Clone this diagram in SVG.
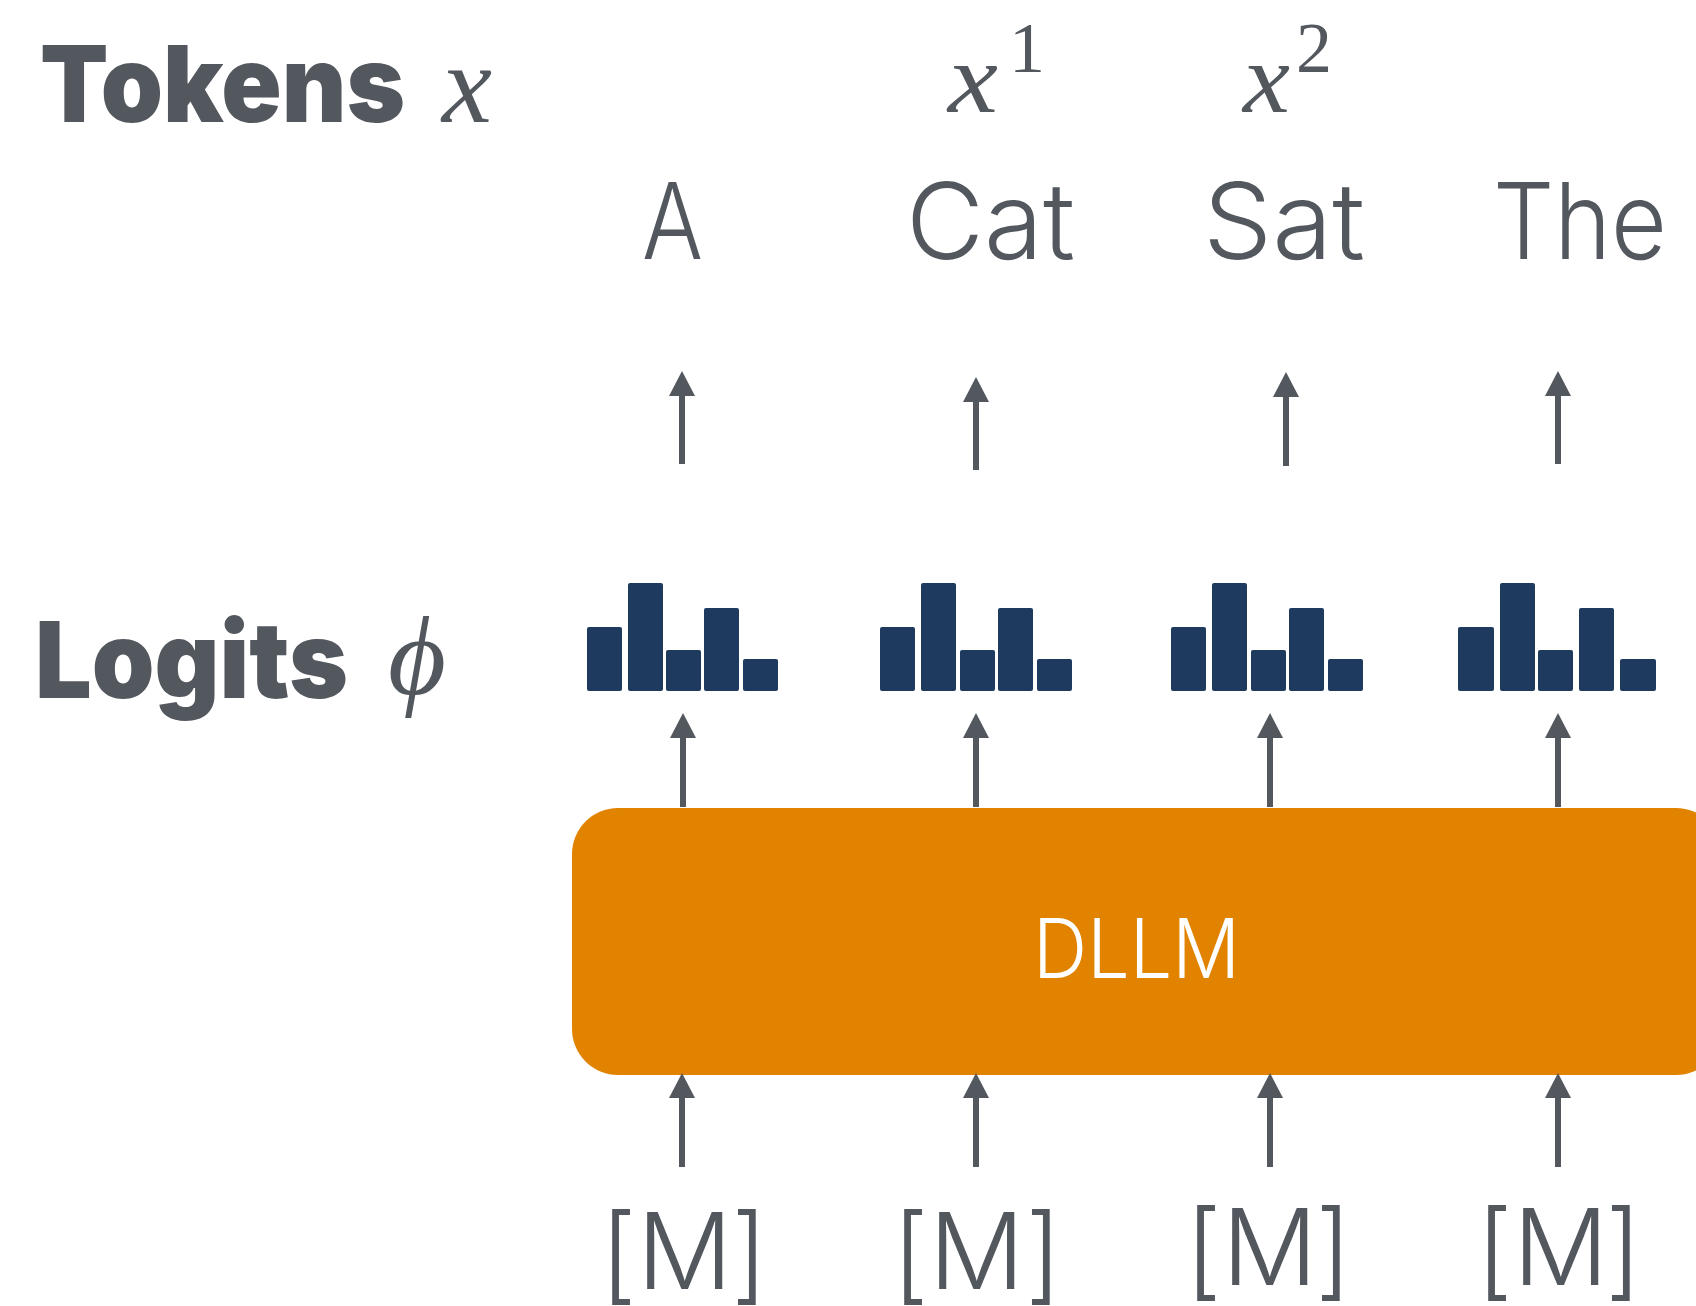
<svg xmlns="http://www.w3.org/2000/svg" width="1696" height="1306" viewBox="0 0 1696 1306">
  <style>
    .head { font-family: Inter, "Noto Sans", "Liberation Sans", sans-serif; font-weight: 900; font-size: 106px; fill: #53575e; }
    .math { font-family: "Liberation Serif", "DejaVu Serif", serif; font-style: italic; fill: #53575e; }
    .num { font-family: "Liberation Serif", "DejaVu Serif", serif; fill: #53575e; }
    .tok { font-family: Inter, "Noto Sans", "Liberation Sans", sans-serif; font-weight: 300; font-size: 106px; fill: #53575e; }
    .mask { font-family: Inter, "Noto Sans", "Liberation Sans", sans-serif; font-weight: 300; font-size: 106px; fill: #53575e; }
    .bar { fill: #1f3a5f; }
    .arrow { stroke: #53575e; stroke-width: 6; fill: none; }
    .box { fill: #e28300; }
    .boxlabel { font-family: Inter, "Noto Sans", "Liberation Sans", sans-serif; font-weight: 300; font-size: 82px; fill: #ffffff; }
  </style>
  <defs>
    <marker id="tip" viewBox="0 0 25 26" refX="0" refY="13" markerWidth="25" markerHeight="26" markerUnits="userSpaceOnUse" orient="auto">
      <path d="M0,0 L25,13 L0,26 Z" fill="#53575e"/>
    </marker>
  </defs>

  <rect width="1696" height="1306" fill="#ffffff"/>

  <!-- row headings -->
  <g id="heading-tokens">
    <text class="head" x="40" y="122" textLength="365" lengthAdjust="spacingAndGlyphs">Tokens</text>
    <text class="math" x="442" y="122" font-size="112" textLength="50" lengthAdjust="spacingAndGlyphs">x</text>
  </g>
  <g id="heading-logits">
    <text class="head" x="35" y="698" textLength="313" lengthAdjust="spacingAndGlyphs">Logits</text>
    <text class="math" x="388" y="694" font-size="112" textLength="58" lengthAdjust="spacingAndGlyphs">ϕ</text>
  </g>

  <!-- step labels -->
  <g id="label-x1">
    <text class="math" x="948" y="112" font-size="100" textLength="50" lengthAdjust="spacingAndGlyphs">x</text>
    <text class="num" x="1009" y="72" font-size="72">1</text>
  </g>
  <g id="label-x2">
    <text class="math" x="1243" y="112" font-size="100" textLength="47" lengthAdjust="spacingAndGlyphs">x</text>
    <text class="num" x="1296" y="72" font-size="72">2</text>
  </g>

  <!-- output tokens -->
  <g id="token-a"><text class="tok" x="642" y="259" textLength="61" lengthAdjust="spacingAndGlyphs">A</text></g>
  <g id="token-cat"><text class="tok" x="906" y="259" textLength="169" lengthAdjust="spacingAndGlyphs">Cat</text></g>
  <g id="token-sat"><text class="tok" x="1203" y="259" textLength="162" lengthAdjust="spacingAndGlyphs">Sat</text></g>
  <g id="token-the"><text class="tok" x="1493" y="259" textLength="174" lengthAdjust="spacingAndGlyphs">The</text></g>

  <!-- logit histograms -->
  <g id="logits-1">
    <rect class="bar" x="587" y="627" width="35" height="64" rx="2"/>
    <rect class="bar" x="628" y="583" width="35" height="108" rx="2"/>
    <rect class="bar" x="666" y="650" width="35" height="41" rx="2"/>
    <rect class="bar" x="704" y="608" width="35" height="83" rx="2"/>
    <rect class="bar" x="743" y="659" width="35" height="32" rx="2"/>
  </g>
  <g id="logits-2">
    <rect class="bar" x="880" y="627" width="35" height="64" rx="2"/>
    <rect class="bar" x="921" y="583" width="35" height="108" rx="2"/>
    <rect class="bar" x="960" y="650" width="35" height="41" rx="2"/>
    <rect class="bar" x="998" y="608" width="35" height="83" rx="2"/>
    <rect class="bar" x="1037" y="659" width="35" height="32" rx="2"/>
  </g>
  <g id="logits-3">
    <rect class="bar" x="1171" y="627" width="35" height="64" rx="2"/>
    <rect class="bar" x="1212" y="583" width="35" height="108" rx="2"/>
    <rect class="bar" x="1251" y="650" width="35" height="41" rx="2"/>
    <rect class="bar" x="1289" y="608" width="35" height="83" rx="2"/>
    <rect class="bar" x="1328" y="659" width="35" height="32" rx="2"/>
  </g>
  <g id="logits-4">
    <rect class="bar" x="1458" y="627" width="36" height="64" rx="2"/>
    <rect class="bar" x="1500" y="583" width="35" height="108" rx="2"/>
    <rect class="bar" x="1538" y="650" width="35" height="41" rx="2"/>
    <rect class="bar" x="1579" y="608" width="35" height="83" rx="2"/>
    <rect class="bar" x="1620" y="659" width="36" height="32" rx="2"/>
  </g>

  <!-- model block -->
  <g id="dllm">
    <rect class="box" x="572" y="808" width="1150" height="267" rx="46"/>
    <text class="boxlabel" x="1033" y="978" textLength="207" lengthAdjust="spacingAndGlyphs">DLLM</text>
  </g>

  <!-- masked inputs: brackets sit a touch lower than the letter -->
  <g id="mask-1"><text class="mask" y="1289"><tspan x="600" y="1291">[</tspan><tspan x="637" y="1289">M</tspan><tspan x="731" y="1291">]</tspan></text></g>
  <g id="mask-2"><text class="mask" y="1289"><tspan x="892" y="1291">[</tspan><tspan x="929" y="1289">M</tspan><tspan x="1025" y="1291">]</tspan></text></g>
  <g id="mask-3"><text class="mask" y="1285"><tspan x="1185" y="1287">[</tspan><tspan x="1222" y="1285">M</tspan><tspan x="1315" y="1287">]</tspan></text></g>
  <g id="mask-4"><text class="mask" y="1285"><tspan x="1476" y="1287">[</tspan><tspan x="1513" y="1285">M</tspan><tspan x="1605" y="1287">]</tspan></text></g>

  <!-- connectors -->
  <g id="connectors">
    <!-- logits to tokens -->
    <line class="arrow" x1="682" y1="464" x2="682" y2="396" marker-end="url(#tip)"/>
    <line class="arrow" x1="976" y1="470" x2="976" y2="402" marker-end="url(#tip)"/>
    <line class="arrow" x1="1286" y1="466" x2="1286" y2="397" marker-end="url(#tip)"/>
    <line class="arrow" x1="1558" y1="464" x2="1558" y2="396" marker-end="url(#tip)"/>
    <!-- model to logits -->
    <line class="arrow" x1="683" y1="807" x2="683" y2="738" marker-end="url(#tip)"/>
    <line class="arrow" x1="976" y1="807" x2="976" y2="738" marker-end="url(#tip)"/>
    <line class="arrow" x1="1270" y1="807" x2="1270" y2="738" marker-end="url(#tip)"/>
    <line class="arrow" x1="1558" y1="807" x2="1558" y2="738" marker-end="url(#tip)"/>
    <!-- masks to model -->
    <line class="arrow" x1="682" y1="1167" x2="682" y2="1098" marker-end="url(#tip)"/>
    <line class="arrow" x1="976" y1="1167" x2="976" y2="1098" marker-end="url(#tip)"/>
    <line class="arrow" x1="1270" y1="1167" x2="1270" y2="1098" marker-end="url(#tip)"/>
    <line class="arrow" x1="1558" y1="1167" x2="1558" y2="1098" marker-end="url(#tip)"/>
  </g>
</svg>
